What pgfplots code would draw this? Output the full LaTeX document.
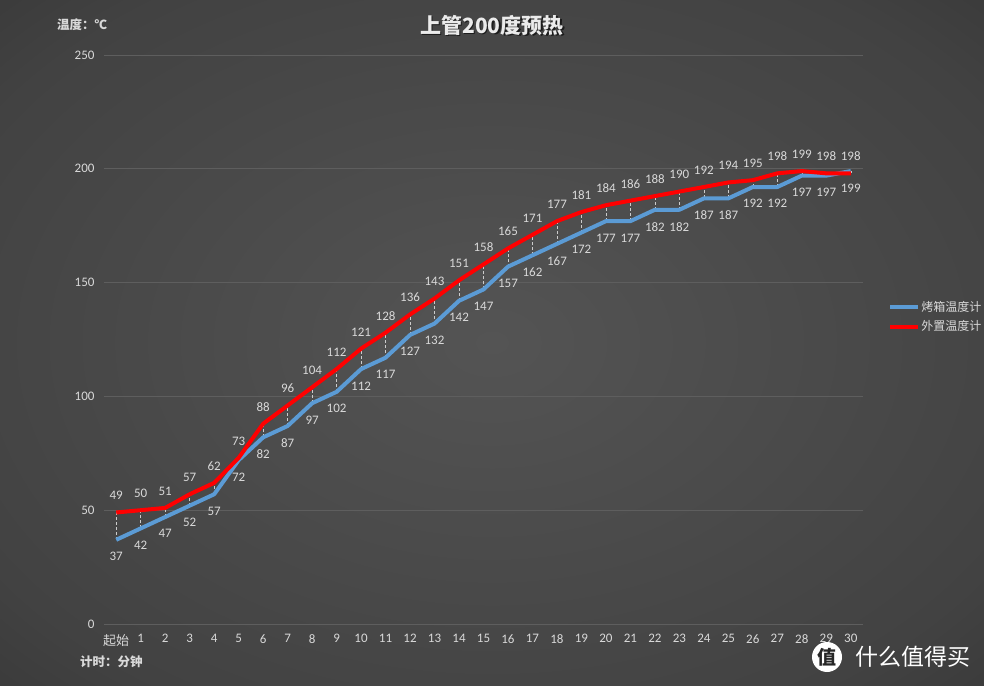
\documentclass[border=0pt]{standalone}
\usepackage{fontspec}
\setmainfont{Carlito}
\newfontfamily\cjk{Noto Sans CJK SC}
\usepackage{pgfplots}
\usepackage{pgfplotstable}
\pgfplotsset{compat=1.18}
\definecolor{txt}{HTML}{D9D9D9}
\definecolor{bluel}{HTML}{5B9BD5}
\definecolor{gridc}{HTML}{5E5E5E}
\definecolor{bgA}{HTML}{545454}
\definecolor{bgB}{HTML}{424242}
\definecolor{bgC}{HTML}{2A2A2A}
\definecolor{bgD}{HTML}{1C1C1C}
\pgfdeclareradialshading{bgshade}{\pgfpoint{0bp}{0bp}}{color(0bp)=(bgA); color(30bp)=(bgB); color(50bp)=(bgC); color(71bp)=(bgD)}

\pgfplotstableread{
x blue red
0 37 49
1 42 50
2 47 51
3 52 57
4 57 62
5 72 73
6 82 88
7 87 96
8 97 104
9 102 112
10 112 121
11 117 128
12 127 136
13 132 143
14 142 151
15 147 158
16 157 165
17 162 171
18 167 177
19 172 181
20 177 184
21 177 186
22 182 188
23 182 190
24 187 192
25 187 194
26 192 195
27 192 198
28 197 199
29 197 198
30 199 198
}\data

\begin{document}
\begin{tikzpicture}
\shade[shading=bgshade] (0,0) rectangle (984pt,685pt);
% title
\node[text=black, opacity=0.6, font=\cjk\bfseries\fontsize{21}{24}\selectfont] at (493.5pt,658.5pt) {上管200度预热};
\node[text=white!92!black, font=\cjk\bfseries\fontsize{21}{24}\selectfont] at (492pt,660pt) {上管200度预热};
\node[anchor=west, text=txt, font=\cjk\bfseries\fontsize{12.5}{14}\selectfont, inner sep=0pt] at (57pt,660pt) {温度：℃};
\node[anchor=west, text=txt, font=\cjk\bfseries\fontsize{12.5}{14}\selectfont, inner sep=0pt] at (80pt,23pt) {计时：分钟};
% watermark
\fill[white] (827pt,28pt) circle (15pt);
\node[text=black!85, font=\cjk\bfseries\fontsize{19}{20}\selectfont] at (827pt,28pt) {值};
\node[anchor=west, text=white, font=\cjk\fontsize{23}{25}\selectfont, inner sep=0pt] at (855pt,28pt) {什么值得买};
\begin{axis}[
  at={(104pt,61pt)}, anchor=south west,
  scale only axis, width=759pt, height=569pt,
  xmin=-0.5, xmax=30.5, ymin=0, ymax=250,
  xtick={0,...,30},
  xticklabels={{\cjk 起始},1,2,3,4,5,6,7,8,9,10,11,12,13,14,15,16,17,18,19,20,21,22,23,24,25,26,27,28,29,30},
  ytick={0,50,...,250},
  axis line style={draw=none},
  major tick length=0pt,
  ymajorgrids, grid style={gridc, line width=0.8pt},
  tick label style={text=txt, font=\fontsize{13}{15}\selectfont},
  x tick label style={yshift=-7pt},
  y tick label style={xshift=-6pt},
  /pgf/number format/assume math mode=true,
  clip=false,
  legend style={at={(1.033,0.54)}, anchor=west, draw=none, fill=none, text=txt,
    font=\cjk\fontsize{12}{14}\selectfont, row sep=4pt, inner sep=0pt,
    nodes={inner xsep=1pt}},
  legend image code/.code={\draw[#1] (0pt,0pt) -- (28pt,0pt);},
  legend cell align=left,
]
\addplot[forget plot, draw=none, mark=none,
  error bars/.cd, y dir=plus, y explicit, error mark=none,
  error bar style={draw=gray!40!white, line width=0.5pt, dash pattern=on 3pt off 2pt}]
  table[x=x, y=blue, y error expr=\thisrow{red}-\thisrow{blue}] {\data};
\addplot[bluel, line width=4pt, mark=none, line join=round,
  nodes near coords,
  every node near coord/.append style={text=txt, font=\fontsize{13}{15}\selectfont, anchor=north, yshift=-10.5pt, inner sep=0pt}]
  table[x=x, y=blue] {\data};
\addlegendentry{烤箱温度计}
\addplot[red, line width=4pt, mark=none, line join=round,
  nodes near coords,
  every node near coord/.append style={text=txt, font=\fontsize{13}{15}\selectfont, anchor=south, yshift=10.5pt, inner sep=0pt}]
  table[x=x, y=red] {\data};
\addlegendentry{外置温度计}
\end{axis}
\end{tikzpicture}
\end{document}
